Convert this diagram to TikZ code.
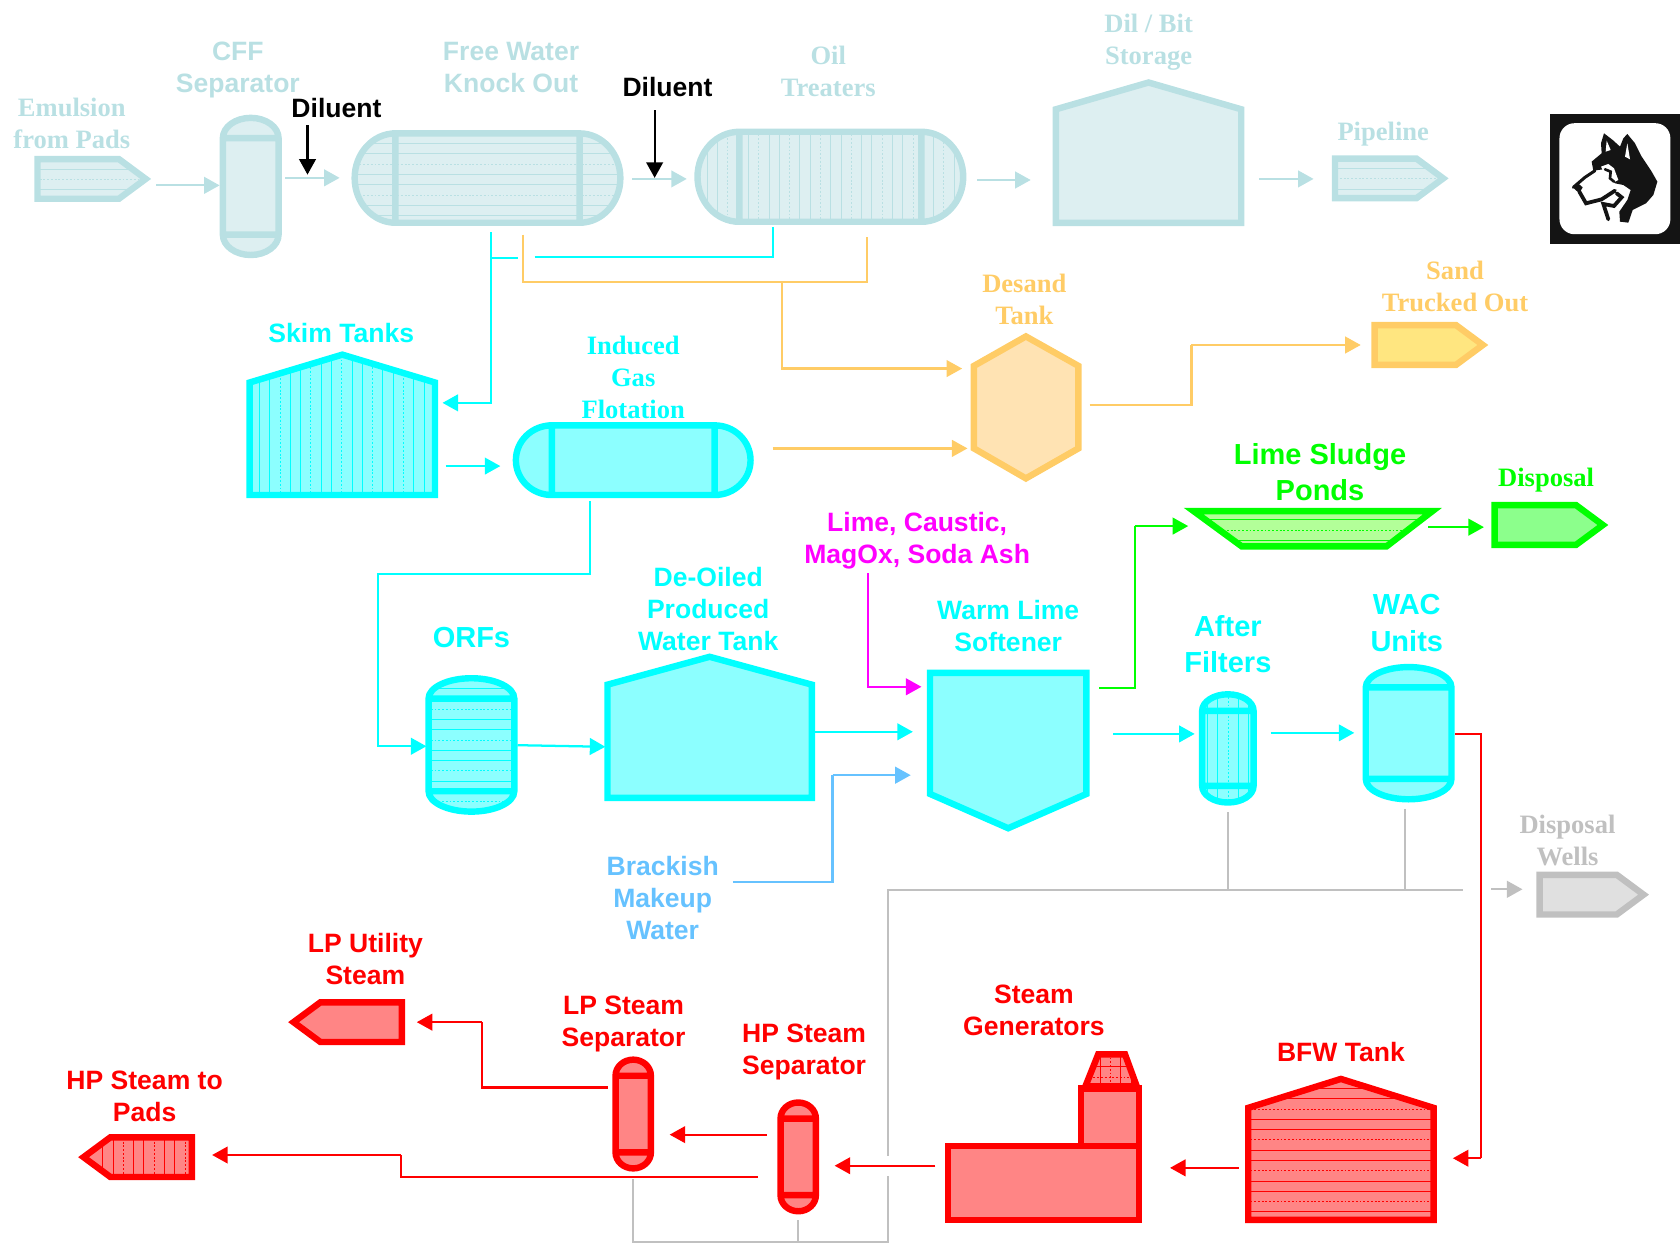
\documentclass[tikz,border=0pt]{standalone}
\usepackage{fontspec}
\setmainfont{Liberation Serif}
\setsansfont{Liberation Sans}
\usetikzlibrary{arrows.meta}
\definecolor{palec}{HTML}{B9E0E3}
\definecolor{palef}{HTML}{DDEFF1}
\definecolor{cyanc}{HTML}{00FFFF}
\definecolor{cyanf}{HTML}{8CFFFF}
\definecolor{sandc}{HTML}{FFCC66}
\definecolor{sandf}{HTML}{FFE3B3}
\definecolor{yellowf}{HTML}{FFE680}
\definecolor{redc}{HTML}{FF0000}
\definecolor{redf}{HTML}{FF8585}
\definecolor{greenc}{HTML}{00FF00}
\definecolor{greenf}{HTML}{8CFF8C}
\definecolor{pondf}{HTML}{B3FF99}
\definecolor{grayc}{HTML}{C0C0C0}
\definecolor{grayf}{HTML}{E0E0E0}
\definecolor{makeupc}{HTML}{66C2FF}
\definecolor{limec}{HTML}{FF00FF}
\definecolor{logoc}{HTML}{141414}
\tikzset{
  vessel/.style 2 args={draw=#1,fill=#2,line width=0.12cm,line join=miter},
  palevessel/.style={vessel={palec}{palef}},
  cyanvessel/.style={vessel={cyanc}{cyanf}},
  sandvessel/.style={vessel={sandc}{sandf}},
  redvessel/.style={vessel={redc}{redf}},
  greenvessel/.style={vessel={greenc}{greenf}},
  hatchline/.style={line width=0.3pt},
  flow/.style={line width=1.2pt,-{Triangle[length=0.29cm,width=0.31cm]}},
  plainflow/.style={line width=1.2pt},
  seritxt/.style={align=center,inner sep=0pt,font=\fontsize{14.1}{17}\selectfont\bfseries\rmfamily},
  santxt/.style={align=center,inner sep=0pt,font=\fontsize{14.1}{17}\selectfont\bfseries\sffamily},
  bigtxt/.style={align=center,inner sep=0pt,font=\fontsize{15.4}{19.2}\selectfont\bfseries\sffamily},
}
% capsule lying down: left, right, centre y, cap width, half height
\newcommand{\hcap}[5]{({#1+#4},{#3-#5}) -- ({#2-#4},{#3-#5})
  arc[start angle=270,end angle=450,x radius=#4,y radius=#5] -- ({#1+#4},{#3+#5})
  arc[start angle=90,end angle=270,x radius=#4,y radius=#5] -- cycle
  ({#1+#4},{#3-#5}) -- ({#1+#4},{#3+#5}) ({#2-#4},{#3-#5}) -- ({#2-#4},{#3+#5})}
% capsule standing: centre x, top, bottom, half width, cap height
\newcommand{\vcap}[5]{({#1-#4},{#2+#5})
  arc[start angle=180,end angle=360,x radius=#4,y radius=#5] -- ({#1+#4},{#3-#5})
  arc[start angle=0,end angle=180,x radius=#4,y radius=#5] -- cycle
  ({#1-#4},{#2+#5}) -- ({#1+#4},{#2+#5}) ({#1-#4},{#3-#5}) -- ({#1+#4},{#3-#5})}
% tag pointing right / left: back x, centre y, body length
\newcommand{\pentr}[3]{({#1},{#2-18.5}) -- ++(#3,0) -- ++(25,18.5) -- ++(-25,18.5) -- ++(-#3,0) -- cycle}
\newcommand{\pentl}[3]{({#1},{#2-18.5}) -- ++(-#3,0) -- ++(-25,18.5) -- ++(25,18.5) -- ++(#3,0) -- cycle}
% tank with a pitched roof: left, right, apex, shoulder, bottom
\newcommand{\roof}[5]{(#1,#5) -- (#1,#4) -- ({(#1+#2)/2},#3) -- (#2,#4) -- (#2,#5) -- cycle}
\newcommand{\hatchseg}[4]{\ifnum#1=2 \draw[hatchline,dash pattern=on 1pt off 1pt,#2] #3 -- #4;\else \draw[hatchline,#2] #3 -- #4;\fi}
\newcommand{\hatchh}[5]{\foreach \k in {0,...,#4}{\pgfmathtruncatemacro{\third}{mod(\k,3)}
  \hatchseg{\third}{#5}{({#1},{#3+9.6*\k})}{({#2},{#3+9.6*\k})}}}
\newcommand{\hatchv}[5]{\foreach \k in {0,...,#4}{\pgfmathtruncatemacro{\third}{mod(\k,3)}
  \hatchseg{\third}{#5}{({#3+9.6*\k},{#1})}{({#3+9.6*\k},{#2})}}}
\begin{document}
\begin{tikzpicture}[x=0.02cm,y=-0.02cm]
\useasboundingbox (0,0) rectangle (1568,1162);
% ---- shapes ----
\draw[palevessel,path picture={\hatchh{30}{140}{148}{3}{palec}}] \pentr{35}{167}{76};
\draw[palevessel] \vcap{234}{110}{238}{26}{19};
\draw[palevessel,path picture={\hatchh{325}{585}{133.8}{7}{palec}}] \hcap{331}{579}{166.2}{38}{41.7};
\draw[palevessel,path picture={\hatchv{115}{215}{660}{24}{palec}}] \hcap{651}{899}{165}{39}{42};
\draw[palevessel] \roof{985.5}{1158.5}{77}{102}{208};
\draw[palevessel,path picture={\hatchh{1240}{1350}{147.5}{3}{palec}}] \pentr{1246}{166.5}{76};
\draw[cyanvessel,path picture={\hatchv{325}{465}{242}{17}{cyanc}}] \roof{233}{406}{331}{357}{462};
\draw[cyanvessel] \hcap{481.5}{700.5}{429.5}{33.5}{32.5};
\draw[sandvessel] (957.5,314) -- (1006.5,341.5) -- (1006.5,418.5) -- (957.5,446.5) -- (909,418.5) -- (909,341.5) -- cycle;
\draw[vessel={sandc}{yellowf}] \pentr{1283}{322}{76};
\draw[vessel={greenc}{pondf},path picture={\hatchh{1110}{1340}{475.4}{3}{greenc}}] (1114,477) -- (1337,477) -- (1294,510) -- (1159,510) -- cycle;
\draw[greenvessel] \pentr{1395}{490}{76};
\draw[cyanvessel,path picture={\hatchh{395}{485}{642.5}{11}{cyanc}}] \vcap{440}{633}{757.5}{40}{19};
\draw[cyanvessel] \roof{567}{757.7}{613}{639}{744.6};
\draw[cyanvessel] (868,628) -- (1014,628) -- (1014,741) -- (941,773) -- (868,741) -- cycle;
\draw[cyanvessel,path picture={\hatchv{640}{755}{1126.8}{4}{cyanc}}] \vcap{1146}{648}{749}{24}{15.5};
\draw[cyanvessel] \vcap{1314.7}{622.6}{746}{40}{19};
\draw[vessel={grayc}{grayf}] \pentr{1437}{835}{72};
\draw[redvessel] \pentl{375}{954}{76};
\draw[redvessel,path picture={\hatchv{1055}{1105}{95.7}{8}{redc}}] \pentl{179}{1080}{76};
\draw[redvessel] \vcap{591}{989}{1090.5}{16.5}{15};
\draw[redvessel] \vcap{745}{1029}{1130.5}{16.5}{15};
\draw[redvessel,path picture={\hatchv{980}{1020}{1017}{4}{redc}\hatchh{1010}{1065}{986}{3}{redc}}] (1025,984) -- (1050,984) -- (1061,1014) -- (1013,1014) -- cycle;
\draw[redvessel] (1009,1069.5) rectangle (1063,1016);
\draw[redvessel] (885,1069.5) rectangle (1063,1138.5);
\draw[redvessel,path picture={\hatchh{1160}{1345}{1015.7}{12}{redc}}] \roof{1165}{1338}{1007}{1034}{1138.5};
% ---- logo ----
\fill[logoc] (1446.5,106.4) rectangle (1568,227.4);
\fill[white,rounded corners=0.28cm] (1455.5,115) rectangle (1559,218.6);
\begin{scope}[shift={(1437.3,93.3)},x=0.00622cm,y=-0.00622cm]
  \fill[logoc] (160,212) -- (155,185) -- (185,160) -- (183,130) -- (192,100) -- (218,120) -- (240,140) -- (250,115) -- (262,102) -- (285,130) -- (305,170) -- (335,215) -- (352,245) -- (340,285) -- (318,310) -- (278,330) -- (265,368) -- (240,365) -- (238,335) -- (262,300) -- (272,270) -- (250,255) -- (225,250) -- (205,225) -- (190,208) -- cycle;
  \fill[white] (200,122) -- (197,155) -- (212,150) -- cycle (262,130) -- (255,170) -- (270,178) -- cycle;
  \fill[white] (183,200) -- (205,192) -- (222,205) -- (235,240) -- (215,250) -- (195,225) -- cycle;
  \draw[logoc,line width=1.4pt,line cap=round] (195,208) -- (212,215) -- (210,235) -- (222,245);
  \draw[logoc,line width=1.6pt,line cap=round] (100,262) -- (135,232) -- (165,212);
  \fill[logoc] (98,262) -- (112,248) -- (128,262) -- (118,280) -- cycle;
  \draw[logoc,line width=2pt,line cap=round] (118,275) -- (138,310) -- (185,298) -- (225,272);
  \draw[logoc,line width=2pt,line cap=round] (230,280) -- (245,292) -- (222,318) -- (190,312) -- (205,358);
\end{scope}
% ---- labels ----
\node[seritxt,text=palec] (emulsionlbl) at (67,115) {Emulsion\\from Pads};
\node[santxt,text=palec] (cfflbl) at (222,65) {CFF\\Separator};
\node[santxt] (diluentlbl) at (314,101) {Diluent};
\node[santxt,text=palec] (fwkolbl) at (477,63) {Free Water\\Knock Out};
\node[santxt] (diluentbis) at (623,81) {Diluent};
\node[seritxt,text=palec] (treatlbl) at (773,66.5) {Oil\\Treaters};
\node[seritxt,text=palec] (storagelbl) at (1072,39.5) {Dil / Bit\\Storage};
\node[seritxt,text=palec] (pipelbl) at (1291,125) {Pipeline};
\node[seritxt,text=sandc] (desandlbl) at (956,279) {Desand\\Tank};
\node[seritxt,text=sandc] (sandlbl) at (1358,267) {Sand\\Trucked Out};
\node[santxt,text=cyanc] (skimlbl) at (318.5,311) {Skim Tanks};
\node[seritxt,text=cyanc] (igflbl) at (591,352) {Induced\\Gas\\Flotation};
\node[bigtxt,text=greenc] (pondlbl) at (1232,441) {Lime Sludge\\Ponds};
\node[seritxt,text=greenc] (displbl) at (1443,448) {Disposal};
\node[santxt,text=limec] (limelbl) at (856,505) {Lime, Caustic,\\MagOx, Soda Ash};
\node[santxt,text=cyanc] (deoillbl) at (661,568) {De-Oiled\\Produced\\Water Tank};
\node[bigtxt,text=cyanc] (orflbl) at (440,595) {ORFs};
\node[santxt,text=cyanc] (softlbl) at (941,584) {Warm Lime\\Softener};
\node[bigtxt,text=cyanc] (filterlbl) at (1146,601) {After\\Filters};
\node[bigtxt,text=cyanc] (waclbl) at (1313,581.5) {WAC\\Units};
\node[santxt,text=makeupc] (bracklbl) at (618.5,838) {Brackish\\Makeup\\Water};
\node[seritxt,text=grayc] (wellslbl) at (1463,784) {Disposal\\Wells};
\node[santxt,text=redc] (lpulbl) at (341,895) {LP Utility\\Steam};
\node[santxt,text=redc] (lpsepbl) at (582,956) {LP Steam\\Separator};
\node[santxt,text=redc] (hpseplbl) at (750.5,982) {HP Steam\\Separator};
\node[santxt,text=redc] (padslbl) at (135,1023) {HP Steam to\\Pads};
\node[santxt,text=redc] (genlbl) at (965,943) {Steam\\Generators};
\node[santxt,text=redc] (bfwlbl) at (1251.5,982) {BFW Tank};
% ---- connector ends ----
\coordinate (padsout) at (146,173);   \coordinate (cffin) at (205,173);
\coordinate (cffout) at (266,166);    \coordinate (fwkoin) at (317,166);
\coordinate (dila) at (287,117);      \coordinate (dilb) at (287,163);
\coordinate (fwkoout) at (590,167);   \coordinate (treatin) at (641,167);
\coordinate (dilc) at (611,103);      \coordinate (dild) at (611,166);
\coordinate (treatout) at (912,168);  \coordinate (storein) at (962,168);
\coordinate (storeout) at (1175,167); \coordinate (pipein) at (1226,167);
\coordinate (fwkowater) at (458.5,217); \coordinate (skimin) at (413,376);
\coordinate (waterjoin) at (458.5,241); \coordinate (joinend) at (483,241);
\coordinate (treatrun) at (499,240);  \coordinate (treatwater) at (721.5,212);
\coordinate (fwkosand) at (488,219);  \coordinate (sandcorner) at (809.5,263);
\coordinate (treatsand) at (809.5,221); \coordinate (sandtap) at (730,263);
\coordinate (desandina) at (898,344); \coordinate (igfsand) at (721,418.5);
\coordinate (desandinb) at (903,418.5); \coordinate (desandout) at (1017,378);
\coordinate (sandturn) at (1112,322); \coordinate (sandin) at (1270,322);
\coordinate (skimout) at (416,435);   \coordinate (igfin) at (467,435);
\coordinate (igfout) at (551,468);    \coordinate (orfbend) at (353,536);
\coordinate (orfin) at (398,696.5);   \coordinate (orfout) at (483,695.5);
\coordinate (tankin) at (565,697);    \coordinate (tankout) at (760,683);
\coordinate (softina) at (852,683);   \coordinate (brackout) at (684,823);
\coordinate (softturn) at (777,723.5); \coordinate (softinb) at (850,723.5);
\coordinate (limeout) at (810,535);   \coordinate (softinc) at (860,641);
\coordinate (softsludge) at (1026,642); \coordinate (pondturn) at (1059,491);
\coordinate (pondin) at (1109,491);   \coordinate (pondout) at (1333,492);
\coordinate (dispin) at (1385,492);   \coordinate (softout) at (1039,685);
\coordinate (filterin) at (1115,685); \coordinate (filterout) at (1186,684);
\coordinate (wacin) at (1264,684);    \coordinate (wacout) at (1358,685);
\coordinate (bfwturn) at (1382,1081); \coordinate (bfwin) at (1356,1081);
\coordinate (filterdrain) at (1146,758); \coordinate (wacdrain) at (1311.5,755);
\coordinate (wellsrun) at (1365,831); \coordinate (graygapa) at (829,1079);
\coordinate (graygapb) at (829,1098); \coordinate (graybend) at (591,1159);
\coordinate (lpdrain) at (591,1100);  \coordinate (hpdrain) at (745,1139);
\coordinate (wellsout) at (1392,830); \coordinate (wellsin) at (1421,830);
\coordinate (genout) at (873,1088);   \coordinate (hpin) at (779,1088);
\coordinate (bfwout) at (1156,1090);  \coordinate (genin) at (1092,1090);
\coordinate (hpsteam) at (716,1059);  \coordinate (lpin) at (625,1059);
\coordinate (lpout) at (567,1015);    \coordinate (lputurn) at (450,954);
\coordinate (lpuin) at (389,954);     \coordinate (hpout) at (707,1098.5);
\coordinate (padsturn) at (374,1078); \coordinate (padsin) at (198,1078);
% ---- connectors ----
\draw[flow,palec] (padsout) -- (cffin);
\draw[flow,palec] (cffout) -- (fwkoin);
\draw[flow,palec] (fwkoout) -- (treatin);
\draw[flow,palec] (treatout) -- (storein);
\draw[flow,palec] (storeout) -- (pipein);
\draw[flow,black] (dila) -- (dilb);
\draw[flow,black] (dilc) -- (dild);
\draw[flow,cyanc] (fwkowater) |- (skimin);
\draw[plainflow,cyanc] (waterjoin) -- (joinend);
\draw[plainflow,cyanc] (treatrun) -| (treatwater);
\draw[plainflow,sandc] (fwkosand) |- (sandcorner) -- (treatsand);
\draw[flow,sandc] (sandtap) |- (desandina);
\draw[flow,sandc] (igfsand) -- (desandinb);
\draw[plainflow,sandc] (desandout) -| (sandturn);
\draw[flow,sandc] (sandturn) -- (sandin);
\draw[flow,cyanc] (skimout) -- (igfin);
\draw[flow,cyanc] (igfout) |- (orfbend) |- (orfin);
\draw[flow,cyanc] (orfout) -- (tankin);
\draw[flow,cyanc] (tankout) -- (softina);
\draw[plainflow,makeupc] (brackout) -| (softturn);
\draw[flow,makeupc] (softturn) -- (softinb);
\draw[flow,limec] (limeout) |- (softinc);
\draw[plainflow,greenc] (softsludge) -| (pondturn);
\draw[flow,greenc] (pondturn) -- (pondin);
\draw[flow,greenc] (pondout) -- (dispin);
\draw[flow,cyanc] (softout) -- (filterin);
\draw[flow,cyanc] (filterout) -- (wacin);
\draw[plainflow,redc] (wacout) -| (bfwturn);
\draw[flow,redc] (bfwturn) -- (bfwin);
\draw[plainflow,grayc] (filterdrain) -- (filterdrain |- wellsrun);
\draw[plainflow,grayc] (wacdrain) -- (wacdrain |- wellsrun);
\draw[plainflow,grayc] (wellsrun) -| (graygapa);
\draw[plainflow,grayc] (graygapb) |- (graybend) -- (lpdrain);
\draw[plainflow,grayc] (hpdrain) -- (hpdrain |- graybend);
\draw[flow,grayc] (wellsout) -- (wellsin);
\draw[flow,redc] (genout) -- (hpin);
\draw[flow,redc] (bfwout) -- (genin);
\draw[flow,redc] (hpsteam) -- (lpin);
\draw[plainflow,redc] (lpout) -| (lputurn);
\draw[flow,redc] (lputurn) -- (lpuin);
\draw[plainflow,redc] (hpout) -| (padsturn);
\draw[flow,redc] (padsturn) -- (padsin);
\end{tikzpicture}
\end{document}
